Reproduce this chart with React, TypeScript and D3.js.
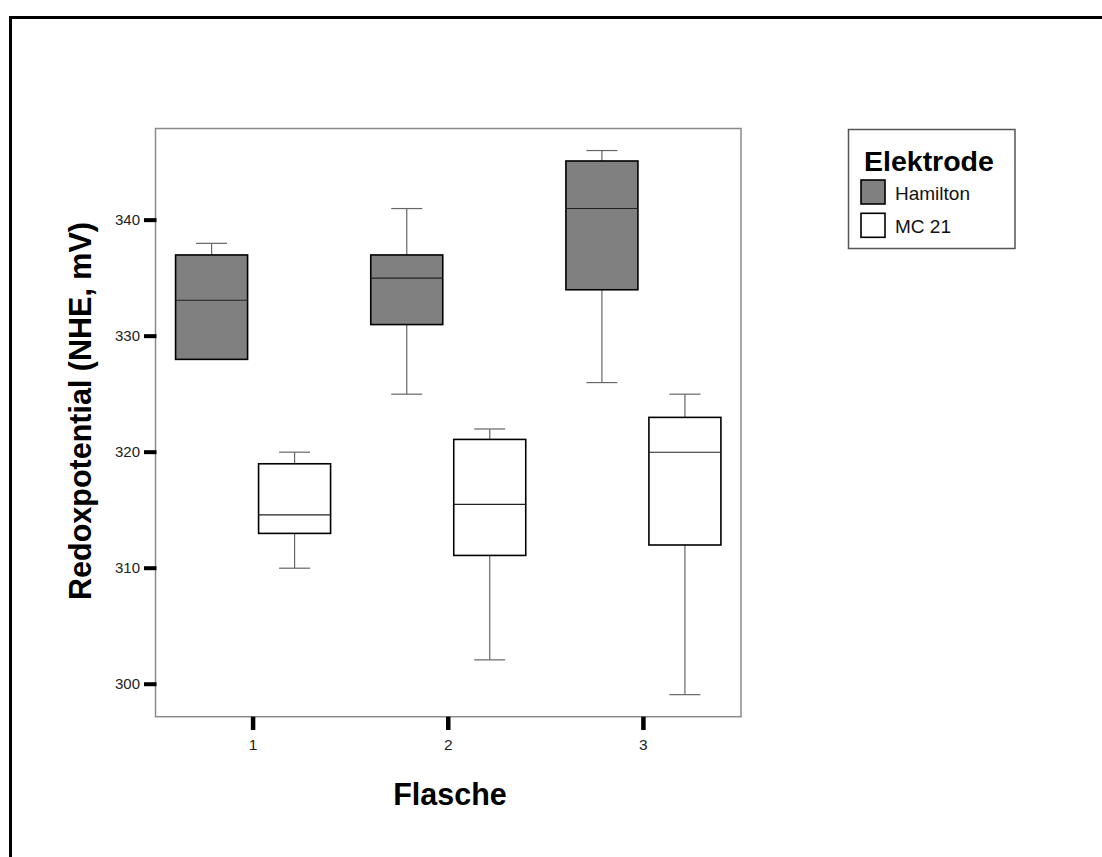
import React from "react";
import * as d3 from "d3";

// Flasks on the x axis, electrode types as grouped boxes
const flasks = ["1", "2", "3"];
const electrodes = ["Hamilton", "MC 21"];
const electrodeFill = ["#808080", "#ffffff"];

// Box statistics per flask: [min, q1, median, q3, max] in mV
const hamiltonStats = [
  [328, 328, 333.1, 337, 338],
  [325, 331, 335, 337, 341],
  [326, 334, 341, 345.1, 346],
];
const mc21Stats = [
  [310, 313, 314.6, 319, 320],
  [302.1, 311.1, 315.5, 321.1, 322],
  [299.1, 312, 320, 323, 325],
];
const yTicks = [300, 310, 320, 330, 340];

const FONT = "'Liberation Sans', Arial, Helvetica, sans-serif";

export default function App() {
  const plot = { left: 155.5, right: 741, top: 128.5, bottom: 716.7 };
  const x = d3.scaleBand<string>().domain(flasks).range([plot.left, plot.right]).padding(0);
  const sub = d3.scalePoint<string>().domain(electrodes).range([-41.5, 41.5]);
  const y = d3.scaleLinear().domain([297.2, 347.9]).range([plot.bottom, plot.top]);
  const boxW = 72;
  const capW = 31;

  const series = [hamiltonStats, mc21Stats];

  const boxes: React.ReactNode[] = [];
  series.forEach((stats, si) => {
    stats.forEach((s, fi) => {
      const cx = (x(flasks[fi]) ?? 0) + x.bandwidth() / 2 + (sub(electrodes[si]) ?? 0);
      const [mn, q1, med, q3, mx] = s;
      boxes.push(
        <g key={`${si}-${fi}`}>
          <line x1={cx} x2={cx} y1={y(mx)} y2={y(q3)} stroke="#666" strokeWidth={1.2} />
          <line x1={cx} x2={cx} y1={y(q1)} y2={y(mn)} stroke="#666" strokeWidth={1.2} />
          <line x1={cx - capW / 2} x2={cx + capW / 2} y1={y(mx)} y2={y(mx)} stroke="#666" strokeWidth={1.2} />
          <line x1={cx - capW / 2} x2={cx + capW / 2} y1={y(mn)} y2={y(mn)} stroke="#666" strokeWidth={1.2} />
          <rect
            x={cx - boxW / 2}
            y={y(q3)}
            width={boxW}
            height={y(q1) - y(q3)}
            fill={electrodeFill[si]}
            stroke="#000"
            strokeWidth={1.6}
          />
          <line x1={cx - boxW / 2} x2={cx + boxW / 2} y1={y(med)} y2={y(med)} stroke="#222" strokeWidth={1.1} />
        </g>
      );
    });
  });

  return (
    <svg
      width={1102}
      height={857}
      style={{ position: "absolute", left: 0, top: 0, background: "#fff" }}
      fontFamily={FONT}
    >
      {/* outer frame */}
      <rect x={10.5} y={17.5} width={1100} height={860} fill="none" stroke="#000" strokeWidth={3} />

      {/* plot frame */}
      <rect
        x={plot.left}
        y={plot.top}
        width={plot.right - plot.left}
        height={plot.bottom - plot.top}
        fill="#fff"
        stroke="#8a8a8a"
        strokeWidth={1.5}
      />

      {boxes}

      {/* y axis ticks */}
      {yTicks.map((t) => (
        <g key={t}>
          <line x1={144} x2={156.5} y1={y(t)} y2={y(t)} stroke="#000" strokeWidth={4} />
          <text x={140} y={y(t)} dy="0.35em" textAnchor="end" fontSize={15} fill="#222">
            {t}
          </text>
        </g>
      ))}

      {/* x axis ticks */}
      {flasks.map((f) => {
        const cx = (x(f) ?? 0) + x.bandwidth() / 2;
        return (
          <g key={f}>
            <line x1={cx} x2={cx} y1={plot.bottom} y2={730} stroke="#000" strokeWidth={4.5} />
            <text x={cx} y={749.5} textAnchor="middle" fontSize={15.5} fill="#222">
              {f}
            </text>
          </g>
        );
      })}

      {/* axis titles */}
      <text x={450} y={805} textAnchor="middle" fontSize={30.5} fontWeight="bold" fill="#000">
        Flasche
      </text>
      <text
        transform="translate(91,411) rotate(-90)"
        textAnchor="middle"
        fontSize={30.5}
        fontWeight="bold"
        fill="#000"
      >
        Redoxpotential (NHE, mV)
      </text>

      {/* legend */}
      <rect x={848.5} y={129.5} width={166.5} height={119} fill="#fff" stroke="#555" strokeWidth={1.5} />
      <text x={864} y={171} fontSize={28.5} fontWeight="bold" fill="#000">
        Elektrode
      </text>
      {electrodes.map((e, i) => (
        <g key={e}>
          <rect
            x={861}
            y={180 + i * 33.3}
            width={24}
            height={24}
            fill={electrodeFill[i]}
            stroke="#000"
            strokeWidth={1.6}
          />
          <text x={895} y={200 + i * 32.5} fontSize={19} fill="#111">
            {e}
          </text>
        </g>
      ))}
    </svg>
  );
}
